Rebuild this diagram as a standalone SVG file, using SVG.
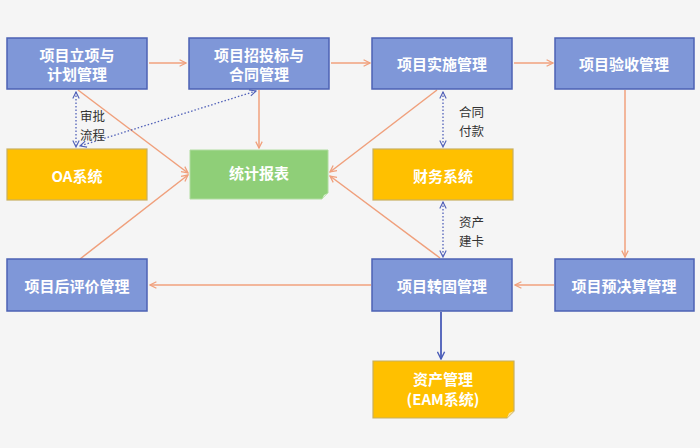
<svg xmlns="http://www.w3.org/2000/svg" width="700" height="448" viewBox="0 0 700 448">
<defs>
<marker id="ao" viewBox="0 0 10 10" refX="9" refY="5" markerWidth="8" markerHeight="8" markerUnits="userSpaceOnUse" orient="auto-start-reverse">
<path d="M1,1 L9,5 L1,9" fill="none" stroke="#f0a07c" stroke-width="1.6"/>
</marker>
<marker id="ab" viewBox="0 0 10 10" refX="9" refY="5" markerWidth="9" markerHeight="9" markerUnits="userSpaceOnUse" orient="auto-start-reverse">
<path d="M1,1 L9,5 L1,9" fill="none" stroke="#4a5cb8" stroke-width="1.6"/>
</marker>
<marker id="ad" viewBox="0 0 10 10" refX="9" refY="5" markerWidth="8" markerHeight="8" markerUnits="userSpaceOnUse" orient="auto-start-reverse">
<path d="M1,1 L9,5 L1,9" fill="none" stroke="#5060b8" stroke-width="1.4"/>
</marker>
</defs>
<style>
.blue{fill:#7f97d8;stroke:#4c62b4;stroke-width:1.5}
.yel{fill:#ffc000;stroke:#c8b060;stroke-width:1.2}
.grn{fill:#8fcf78;stroke:#b0dca0;stroke-width:1}
.t{font-family:"Noto Sans CJK SC","Noto Sans",sans-serif;font-weight:bold;font-size:15px;fill:#ffffff;text-anchor:middle;dominant-baseline:central}
.lb{font-family:"Noto Sans CJK SC","Noto Sans",sans-serif;font-size:12.5px;fill:#333333}
.c{fill:none;stroke:#f0a07c;stroke-width:1.5;marker-end:url(#ao)}
.d{fill:none;stroke:#5060b8;stroke-width:1.3;stroke-dasharray:1.5 2;marker-start:url(#ad);marker-end:url(#ad)}
</style>
<rect width="700" height="448" fill="#f5f5f5"/>
<g id="connectors">
<line class="c" x1="149" y1="63" x2="186" y2="63"/>
<line class="c" x1="331" y1="63" x2="370" y2="63"/>
<line class="c" x1="514" y1="63" x2="553" y2="63"/>
<line class="c" x1="259" y1="90" x2="259" y2="148"/>
<line class="c" x1="78" y1="90" x2="188" y2="173"/>
<line class="c" x1="80" y1="259" x2="188" y2="175"/>
<line class="c" x1="437" y1="90" x2="330" y2="172"/>
<line class="c" x1="440" y1="258" x2="330" y2="176"/>
<line class="c" x1="625" y1="90" x2="625" y2="257"/>
<line class="c" x1="554" y1="285" x2="515" y2="285"/>
<line class="c" x1="371" y1="285" x2="150" y2="285"/>
<line x1="441" y1="312" x2="441" y2="359" stroke="#4a5cb8" stroke-width="1.8" marker-end="url(#ab)"/>
<line class="d" x1="76" y1="92" x2="76" y2="147"/>
<line class="d" x1="256" y1="91" x2="80" y2="146"/>
<line class="d" x1="443" y1="92" x2="443" y2="147"/>
<line class="d" x1="443" y1="202" x2="443" y2="257"/>
<text class="lb" x="80" y="121">审批</text>
<text class="lb" x="80" y="139.5">流程</text>
<text class="lb" x="459" y="117">合同</text>
<text class="lb" x="459" y="135.5">付款</text>
<text class="lb" x="459" y="227">资产</text>
<text class="lb" x="459" y="245.5">建卡</text>
</g>
<g id="n1"><rect class="blue" x="7" y="38" width="140" height="51"/><text class="t" x="77" y="54">项目立项与</text><text class="t" x="77" y="73">计划管理</text></g>
<g id="n2"><rect class="blue" x="189" y="38" width="140" height="51"/><text class="t" x="259" y="54">项目招投标与</text><text class="t" x="259" y="73">合同管理</text></g>
<g id="n3"><rect class="blue" x="372" y="38" width="140" height="51"/><text class="t" x="442" y="63">项目实施管理</text></g>
<g id="n4"><rect class="blue" x="555" y="38" width="139" height="51"/><text class="t" x="624" y="63">项目验收管理</text></g>
<g id="n5"><rect class="yel" x="7" y="149" width="140" height="51"/><text class="t" x="77" y="175">OA系统</text></g>
<g id="n6"><path class="grn" d="M190,150 H328 V193 L322,199 H190 Z"/><path d="M322,199 L324,195 L328,193 Z" fill="#d8eed0"/><text class="t" x="259" y="172">统计报表</text></g>
<g id="n7"><rect class="yel" x="373" y="149" width="140" height="51"/><text class="t" x="443" y="175">财务系统</text></g>
<g id="n8"><rect class="blue" x="7" y="259" width="140" height="52"/><text class="t" x="77" y="285">项目后评价管理</text></g>
<g id="n9"><rect class="blue" x="372" y="259" width="140" height="52"/><text class="t" x="442" y="285">项目转固管理</text></g>
<g id="n10"><rect class="blue" x="555" y="259" width="139" height="52"/><text class="t" x="624" y="285">项目预决算管理</text></g>
<g id="n11"><path class="yel" d="M373,361 H514 V411 L507,418 H373 Z"/><path d="M507,418 L509,413 L514,411 Z" fill="#f8e0a0"/><text class="t" x="443" y="378">资产管理</text><text class="t" x="443" y="398">(EAM系统)</text></g>
</svg>
